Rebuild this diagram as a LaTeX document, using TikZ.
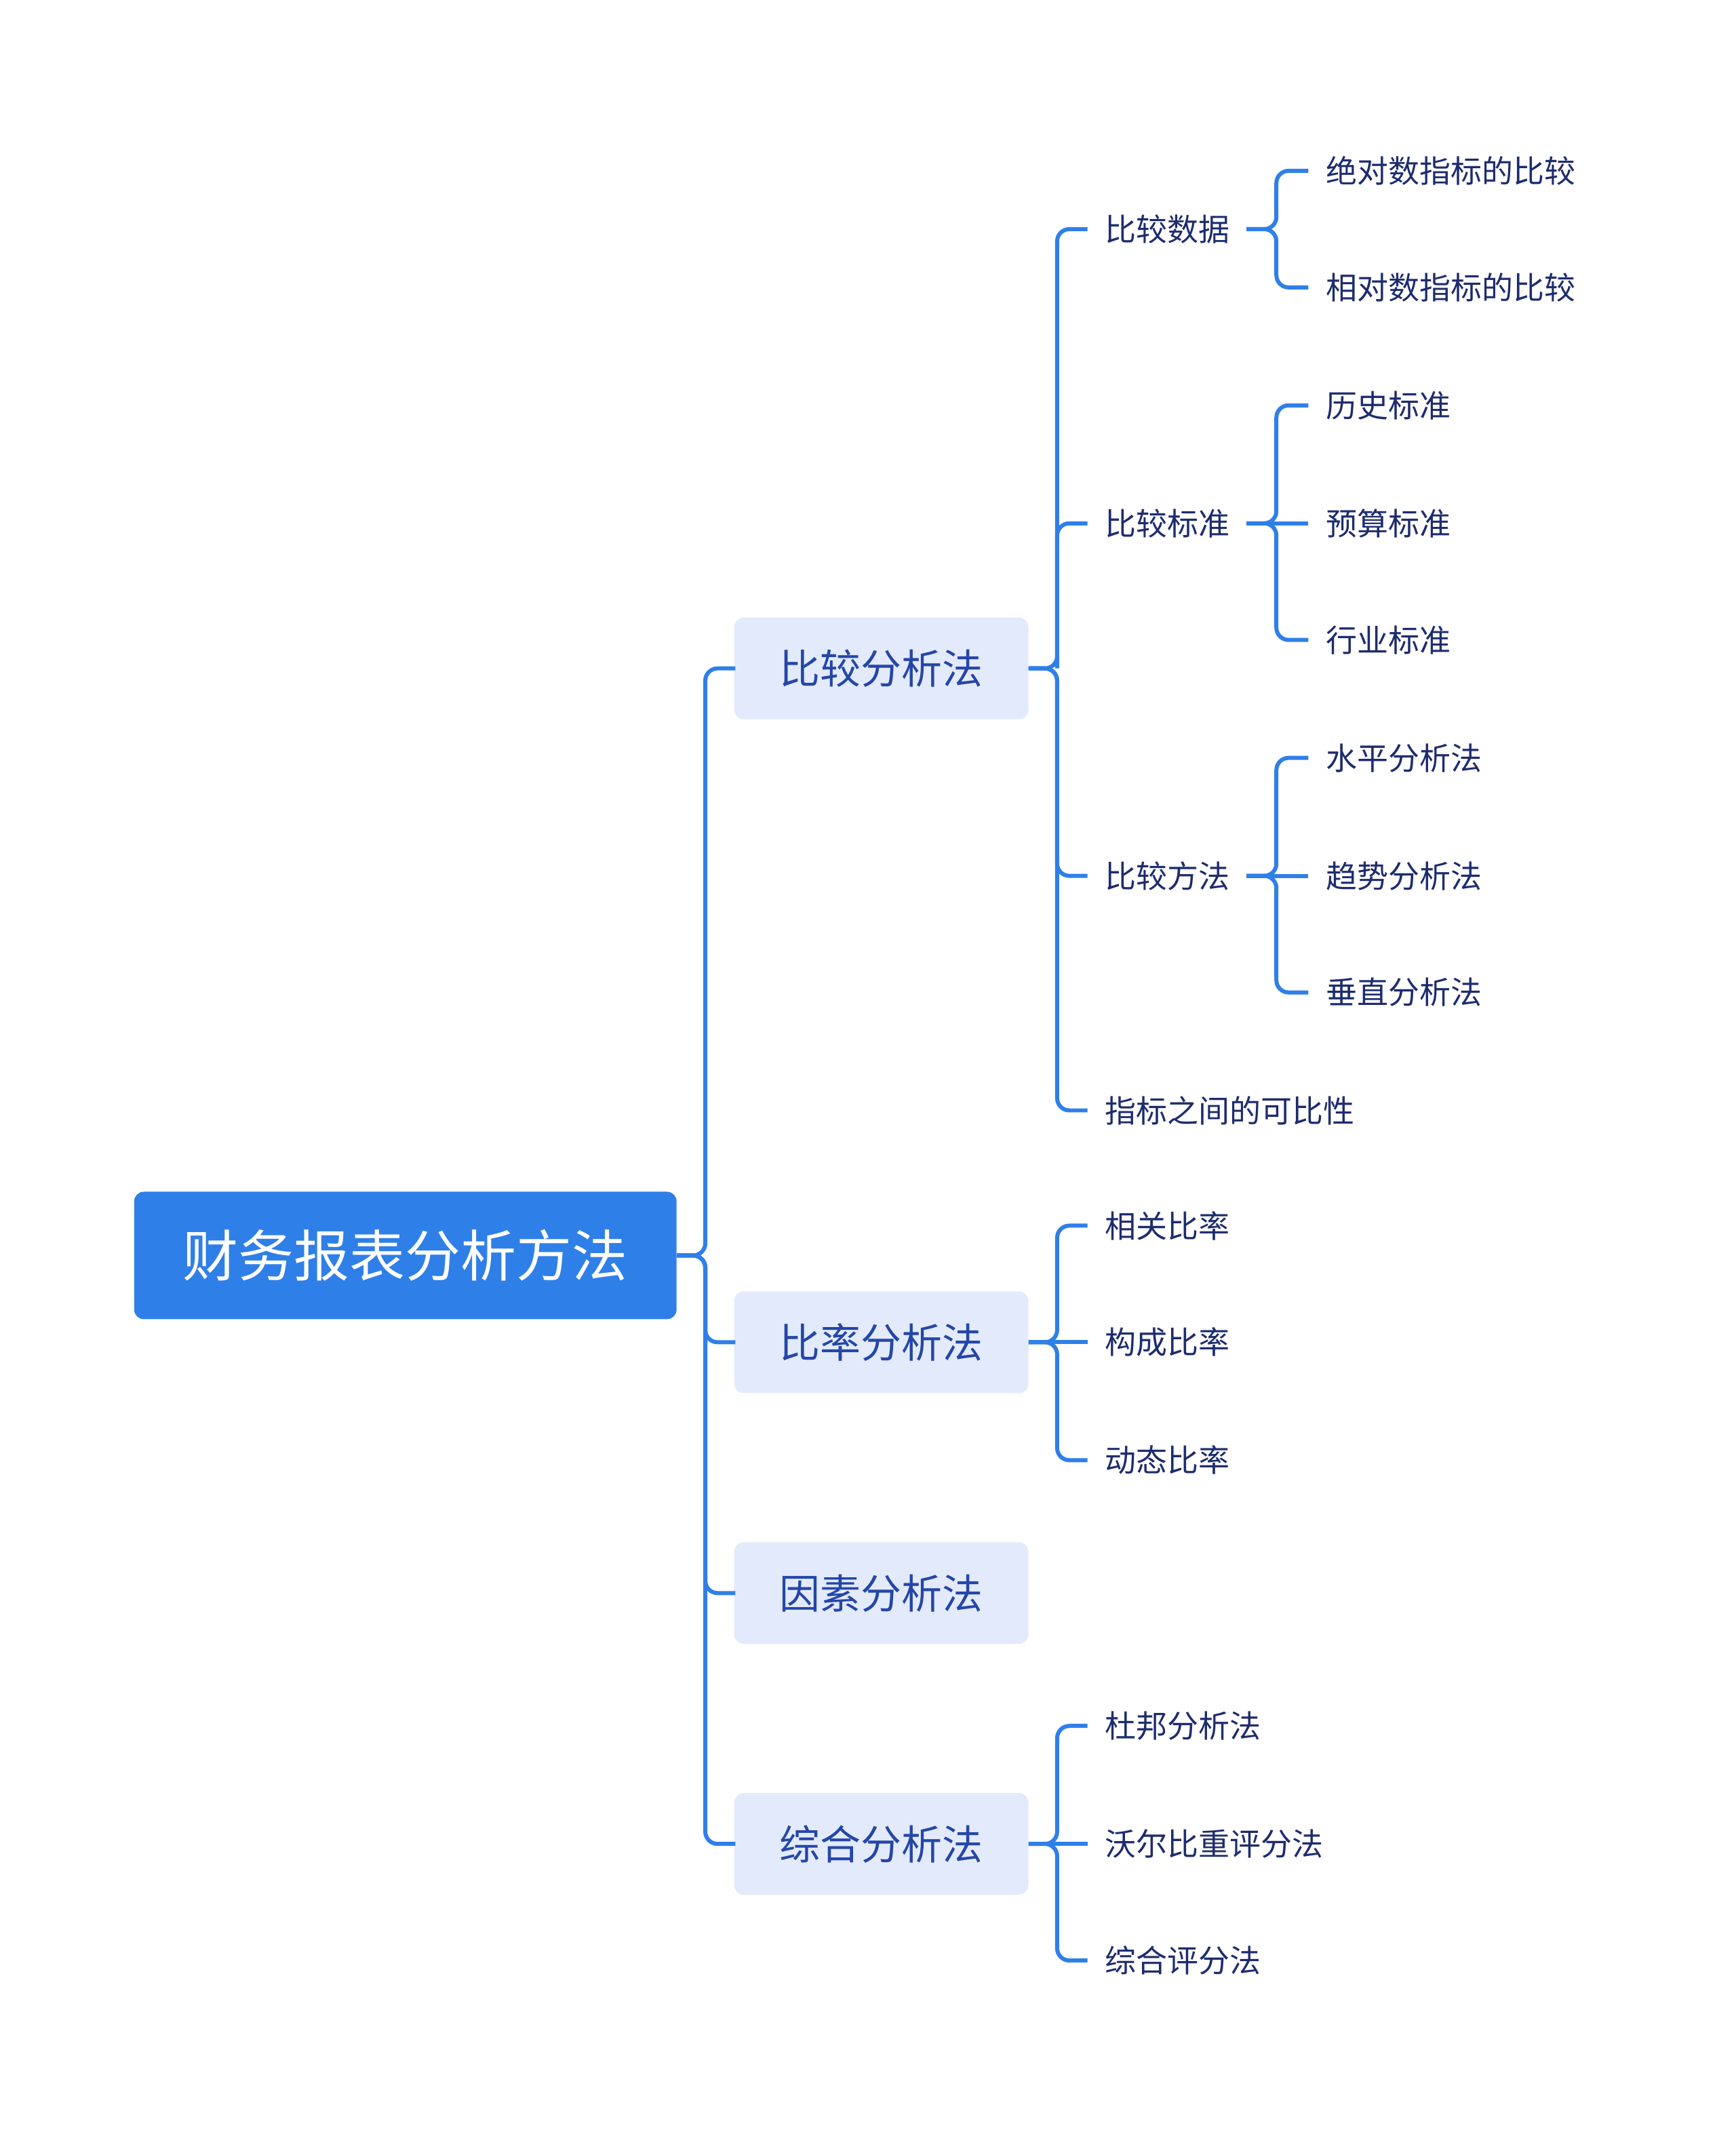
\documentclass[tikz,border=0pt]{standalone}
\usepackage{fontspec}
\newfontfamily\cjk{Noto Sans CJK SC}
\definecolor{lc}{HTML}{2F7FE8}
\definecolor{bx}{HTML}{E3EAFB}
\definecolor{tx1}{HTML}{2446A8}
\definecolor{tx2}{HTML}{1E2C6E}
\begin{document}
\begin{tikzpicture}[x=1pt,y=-1pt,
 conn/.style={draw=lc,line width=3pt,rounded corners=9pt},
 rootbox/.style={fill=lc,rounded corners=7pt,minimum width=400pt,minimum height=94pt,text=white,font=\cjk\fontsize{41}{48}\selectfont},
 l1box/.style={fill=bx,rounded corners=7pt,minimum width=217pt,minimum height=75pt,text=tx1,font=\cjk\fontsize{30}{35}\selectfont},
 leaf/.style={anchor=west,inner sep=0pt,text=tx2,font=\cjk\fontsize{23}{27}\selectfont}]
\fill[white] (0,0) rectangle (1280,1574);
\node[rootbox] (root) at (299,926) {财务报表分析方法};
\node[l1box] (a) at (650,493) {比较分析法};
\node[l1box] (b) at (650,990) {比率分析法};
\node[l1box] (c) at (650,1175) {因素分析法};
\node[l1box] (d) at (650,1360) {综合分析法};
\foreach \n in {a,b,c,d} \draw[conn] (root.east) -- ++(21,0) |- ([xshift=1pt]\n.west);
\node[leaf] (a1) at (815,169) {比较数据};
\node[leaf] (a2) at (815,386) {比较标准};
\node[leaf] (a3) at (815,646) {比较方法};
\node[leaf] (a4) at (815,819) {指标之间的可比性};
\foreach \n in {a1,a3,a4} \draw[conn] (a.east) -- ++(21,0) |- ([xshift=-13pt]\n.west);
\node[leaf] (a11) at (978,126) {绝对数指标的比较};
\node[leaf] (a12) at (978,212) {相对数指标的比较};
\node[leaf] (a21) at (978,299) {历史标准};
\node[leaf] (a22) at (978,386) {预算标准};
\node[leaf] (a23) at (978,472) {行业标准};
\node[leaf] (a31) at (978,559) {水平分析法};
\node[leaf] (a32) at (978,646) {趋势分析法};
\node[leaf] (a33) at (978,732) {垂直分析法};
\draw[conn] (a.east) ++(21,0) |- ([xshift=-13pt]a2.west);
\foreach \n in {a11,a12} \draw[conn] ([xshift=12pt]a1.east) -- ++(22,0) |- ([xshift=-13pt]\n.west);
\foreach \n in {a21,a23} \draw[conn] ([xshift=12pt]a2.east) -- ++(22,0) |- ([xshift=-13pt]\n.west);
\draw[conn] ([xshift=12pt]a2.east) -- ([xshift=-13pt]a22.west);
\foreach \n in {a31,a33} \draw[conn] ([xshift=12pt]a3.east) -- ++(22,0) |- ([xshift=-13pt]\n.west);
\draw[conn] ([xshift=12pt]a3.east) -- ([xshift=-13pt]a32.west);
\node[leaf] (b1) at (815,904) {相关比率};
\node[leaf] (b2) at (815,990) {构成比率};
\node[leaf] (b3) at (815,1077) {动态比率};
\foreach \n in {b1,b3} \draw[conn] (b.east) -- ++(21,0) |- ([xshift=-13pt]\n.west);
\draw[conn] (b.east) -- ([xshift=-13pt]b2.west);
\node[leaf] (d1) at (815,1273) {杜邦分析法};
\node[leaf] (d2) at (815,1360) {沃尔比重评分法};
\node[leaf] (d3) at (815,1446) {综合评分法};
\foreach \n in {d1,d3} \draw[conn] (d.east) -- ++(21,0) |- ([xshift=-13pt]\n.west);
\draw[conn] (d.east) -- ([xshift=-13pt]d2.west);
\useasboundingbox (0,0) rectangle (1280,1574);
\end{tikzpicture}
\end{document}
